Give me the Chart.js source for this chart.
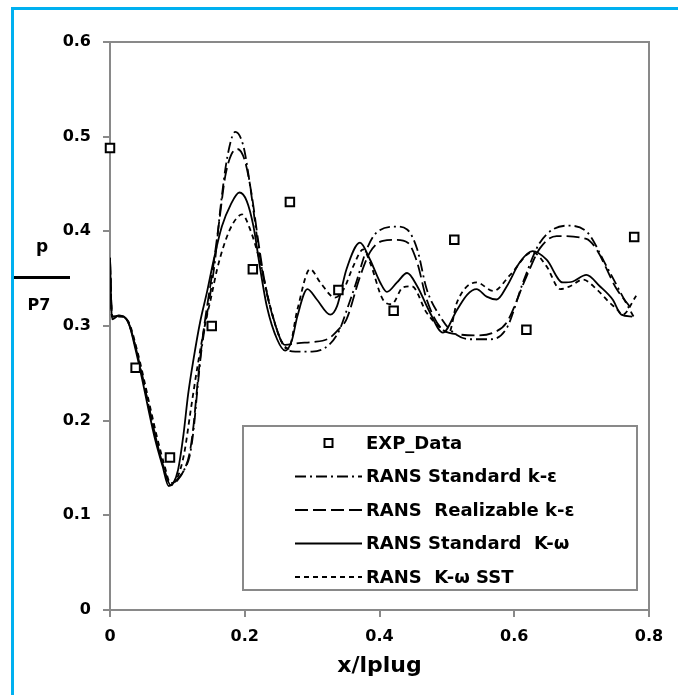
<!DOCTYPE html>
<html><head><meta charset="utf-8">
<script src="https://cdn.jsdelivr.net/npm/chart.js@4.4.1/dist/chart.umd.min.js"></script>
<style>
html,body{margin:0;padding:0;background:#fff;}
#wrap{position:relative;width:678px;height:695px;overflow:hidden;}
#bframe{position:absolute;left:11px;top:7px;width:720px;height:720px;border-left:3px solid #00b0f0;border-top:3px solid #00b0f0;}
canvas{position:absolute;left:0;top:0;}
.lbl{position:absolute;font-family:"DejaVu Sans",sans-serif;font-weight:bold;color:#000;text-align:center;white-space:nowrap;}
</style></head>
<body><div id="wrap"><div id="bframe"></div><canvas id="c" width="678" height="695"></canvas>
<div class="lbl" style="left:110px;width:539px;top:651px;font-size:22px;line-height:28px;">x/lplug</div>
<div class="lbl" style="left:14px;width:56px;top:235px;font-size:17px;line-height:22px;">p</div>
<div style="position:absolute;left:14px;top:276px;width:56px;height:2.5px;background:#000;"></div>
<div class="lbl" style="left:14px;width:50px;top:295px;font-size:16px;line-height:20px;">P7</div>
</div>
<script>
// ---- data ----
const seriesNames = ["EXP_Data", "RANS Standard k-\u03b5", "RANS  Realizable k-\u03b5", "RANS Standard  K-\u03c9", "RANS  K-\u03c9 SST"];
const xTicks = [0, 0.2, 0.4, 0.6, 0.8];
const yTicks = [0, 0.1, 0.2, 0.3, 0.4, 0.5, 0.6];

const expX = [0, 0.038, 0.089, 0.151, 0.212, 0.267, 0.339, 0.421, 0.511, 0.618, 0.778];
const expY = [0.488, 0.256, 0.161, 0.30, 0.36, 0.431, 0.338, 0.316, 0.391, 0.296, 0.394];

const kEpsX = [0, 0.003, 0.013, 0.027, 0.04, 0.05, 0.06, 0.07, 0.08, 0.09, 0.1, 0.11, 0.118, 0.124, 0.13, 0.135, 0.141, 0.148, 0.156, 0.164, 0.174, 0.186, 0.198, 0.208, 0.218, 0.228, 0.243, 0.257, 0.275, 0.3, 0.325, 0.34, 0.352, 0.365, 0.381, 0.396, 0.425, 0.441, 0.456, 0.47, 0.49, 0.505, 0.534, 0.564, 0.589, 0.613, 0.638, 0.678, 0.707, 0.737, 0.761, 0.777];
const kEpsY = [0.372, 0.31, 0.311, 0.304, 0.272, 0.24, 0.207, 0.176, 0.15, 0.132, 0.138, 0.148, 0.162, 0.19, 0.235, 0.27, 0.3, 0.33, 0.37, 0.425, 0.478, 0.505, 0.49, 0.448, 0.395, 0.35, 0.307, 0.28, 0.273, 0.273, 0.28, 0.295, 0.318, 0.345, 0.381, 0.399, 0.405, 0.402, 0.381, 0.339, 0.31, 0.296, 0.286, 0.286, 0.298, 0.346, 0.388, 0.406, 0.40, 0.363, 0.331, 0.31];

const realX = [0, 0.003, 0.013, 0.027, 0.04, 0.05, 0.06, 0.07, 0.08, 0.09, 0.1, 0.11, 0.118, 0.124, 0.13, 0.137, 0.145, 0.152, 0.162, 0.171, 0.18, 0.189, 0.2, 0.21, 0.22, 0.23, 0.245, 0.26, 0.28, 0.3, 0.325, 0.34, 0.351, 0.371, 0.386, 0.405, 0.425, 0.442, 0.456, 0.47, 0.494, 0.519, 0.545, 0.569, 0.589, 0.618, 0.638, 0.663, 0.707, 0.722, 0.752, 0.771];
const realY = [0.37, 0.31, 0.311, 0.304, 0.272, 0.24, 0.207, 0.176, 0.15, 0.132, 0.137, 0.148, 0.165, 0.195, 0.24, 0.285, 0.325, 0.357, 0.41, 0.458, 0.481, 0.487, 0.475, 0.44, 0.39, 0.345, 0.302, 0.28, 0.282, 0.283, 0.287, 0.297, 0.307, 0.352, 0.378, 0.39, 0.391, 0.388, 0.367, 0.328, 0.296, 0.291, 0.29, 0.293, 0.304, 0.352, 0.382, 0.395, 0.392, 0.381, 0.339, 0.321];

const kOmX = [0, 0.003, 0.013, 0.027, 0.038, 0.048, 0.057, 0.067, 0.078, 0.087, 0.094, 0.101, 0.109, 0.116, 0.124, 0.134, 0.144, 0.154, 0.166, 0.179, 0.192, 0.203, 0.213, 0.223, 0.233, 0.248, 0.26, 0.27, 0.278, 0.293, 0.307, 0.327, 0.337, 0.351, 0.371, 0.386, 0.401, 0.411, 0.426, 0.441, 0.456, 0.475, 0.494, 0.515, 0.53, 0.544, 0.559, 0.574, 0.589, 0.608, 0.627, 0.648, 0.672, 0.687, 0.707, 0.727, 0.746, 0.759, 0.775];
const kOmY = [0.372, 0.307, 0.311, 0.304, 0.275, 0.243, 0.212, 0.18, 0.152, 0.131, 0.134, 0.148, 0.185, 0.228, 0.265, 0.305, 0.336, 0.37, 0.405, 0.428, 0.441, 0.432, 0.405, 0.36, 0.32, 0.286, 0.274, 0.285, 0.31, 0.339, 0.328, 0.312, 0.321, 0.36, 0.388, 0.37, 0.346, 0.336, 0.346, 0.356, 0.342, 0.314, 0.293, 0.317, 0.333, 0.339, 0.331, 0.328, 0.342, 0.367, 0.379, 0.37, 0.346, 0.347, 0.354, 0.342, 0.328, 0.312, 0.31];

const sstX = [0, 0.003, 0.013, 0.027, 0.04, 0.05, 0.06, 0.07, 0.08, 0.09, 0.1, 0.11, 0.12, 0.13, 0.14, 0.15, 0.159, 0.168, 0.178, 0.187, 0.196, 0.208, 0.223, 0.238, 0.253, 0.265, 0.278, 0.297, 0.312, 0.334, 0.347, 0.361, 0.376, 0.386, 0.405, 0.418, 0.435, 0.448, 0.47, 0.494, 0.503, 0.515, 0.544, 0.569, 0.594, 0.627, 0.648, 0.668, 0.683, 0.702, 0.722, 0.741, 0.752, 0.761, 0.781];
const sstY = [0.37, 0.31, 0.31, 0.305, 0.275, 0.245, 0.213, 0.182, 0.155, 0.134, 0.14, 0.165, 0.212, 0.258, 0.298, 0.33, 0.36, 0.383, 0.402, 0.413, 0.418, 0.402, 0.367, 0.32, 0.286, 0.276, 0.317, 0.36, 0.346, 0.33, 0.339, 0.363, 0.381, 0.367, 0.328, 0.323, 0.341, 0.342, 0.314, 0.296, 0.293, 0.325, 0.346, 0.337, 0.354, 0.378, 0.363, 0.339, 0.342, 0.349, 0.339, 0.325, 0.318, 0.312, 0.332];

// ---- build ----
const pts = (xs, ys) => xs.map((x, i) => ({x: x, y: ys[i]}));
const FONT = '"DejaVu Sans", sans-serif';
const GRAY = '#898989';

function lineDs(label, xs, ys, dash) {
  return {label, data: pts(xs, ys), showLine: true, pointRadius: 0, borderColor: '#000',
    borderWidth: 1.8, borderDash: dash, fill: false, cubicInterpolationMode: 'monotone'};
}

const datasets = [
  {label: seriesNames[0], data: pts(expX, expY), showLine: false, pointStyle: 'rect', pointRadius: 6,
   borderColor: '#000', backgroundColor: '#fff', pointBorderWidth: 2, clip: false},
  lineDs(seriesNames[1], kEpsX, kEpsY, [11, 4, 2, 4]),
  lineDs(seriesNames[2], realX, realY, [13, 5]),
  lineDs(seriesNames[3], kOmX, kOmY, []),
  lineDs(seriesNames[4], sstX, sstY, [5, 4])
];

const framePlugin = {
  id: 'framePlugin',
  beforeDatasetsDraw(chart) {
    const {ctx, chartArea: a} = chart;
    ctx.save();
    ctx.strokeStyle = GRAY; ctx.lineWidth = 2;
    ctx.beginPath();
    ctx.moveTo(a.left, a.top); ctx.lineTo(a.right, a.top); ctx.lineTo(a.right, a.bottom);
    ctx.stroke();
    ctx.restore();
  }
};

const legendPlugin = {
  id: 'boxLegend',
  afterDraw(chart) {
    const ctx = chart.ctx;
    const bx = 243, by = 426, bw = 394, bh = 164;
    ctx.save();
    ctx.fillStyle = '#fff'; ctx.fillRect(bx, by, bw, bh);
    ctx.strokeStyle = GRAY; ctx.lineWidth = 2; ctx.strokeRect(bx, by, bw, bh);
    const x0 = 295, x1 = 362, tx = 366;
    chart.data.datasets.forEach((ds, i) => {
      const cy = 443 + i * 33.5;
      ctx.strokeStyle = '#000';
      if (ds.showLine) {
        ctx.lineWidth = ds.borderWidth;
        ctx.setLineDash(ds.borderDash);
        ctx.beginPath(); ctx.moveTo(x0, cy); ctx.lineTo(x1, cy); ctx.stroke();
        ctx.setLineDash([]);
      } else {
        ctx.lineWidth = 2; ctx.fillStyle = '#fff';
        ctx.fillRect((x0 + x1) / 2 - 4, cy - 4, 8, 8);
        ctx.strokeRect((x0 + x1) / 2 - 4, cy - 4, 8, 8);
      }
      ctx.fillStyle = '#000';
      ctx.font = 'bold 18px ' + FONT;
      ctx.textBaseline = 'middle'; ctx.textAlign = 'left';
      ctx.fillText(ds.label, tx, cy + 1);
    });
    ctx.restore();
  }
};

const tickFont = {family: FONT, size: 16, weight: 'bold'};

new Chart(document.getElementById('c'), {
  type: 'scatter',
  data: {datasets},
  options: {
    responsive: false, animation: false, devicePixelRatio: 1,
    layout: {padding: {left: 0, top: 42, right: 29, bottom: 0}},
    plugins: {legend: {display: false}, tooltip: {enabled: false}},
    scales: {
      x: {
        type: 'linear', min: xTicks[0], max: xTicks[xTicks.length - 1],
        afterBuildTicks: s => { s.ticks = xTicks.map(v => ({value: v})); },
        afterFit: s => { s.height = 85; },
        ticks: {color: '#000', font: tickFont, padding: 10, callback: v => String(v)},
        grid: {drawOnChartArea: false, tickLength: 7, color: GRAY, lineWidth: 2},
        border: {color: GRAY, width: 2}
      },
      y: {
        type: 'linear', min: yTicks[0], max: yTicks[yTicks.length - 1],
        afterBuildTicks: s => { s.ticks = yTicks.map(v => ({value: v})); },
        afterFit: s => { s.width = 110; },
        ticks: {color: '#000', font: tickFont, padding: 12, callback: v => String(v)},
        grid: {drawOnChartArea: false, tickLength: 7, color: GRAY, lineWidth: 2},
        border: {color: GRAY, width: 2}
      }
    }
  },
  plugins: [framePlugin, legendPlugin]
});
</script>
</body></html>
